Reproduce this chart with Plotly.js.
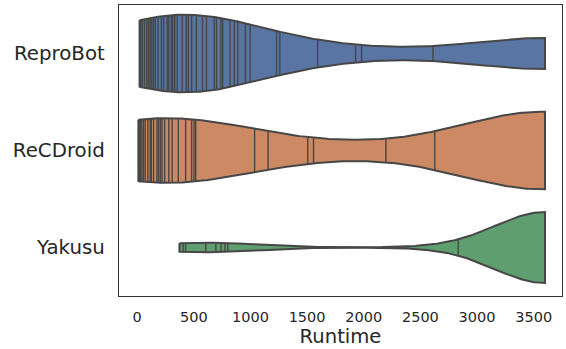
<!DOCTYPE html>
<html>
<head>
<meta charset="utf-8">
<script src="https://cdn.plot.ly/plotly-3.0.1.min.js"></script>
<style>html,body{margin:0;padding:0;background:#fff;}#chart{width:566px;height:349px;}</style>
</head>
<body>
<div id="chart"></div>
<script>
// ---- data ----
const categories = ["ReproBot", "ReCDroid", "Yakusu"];
const reproBot = [22, 26, 32, 45, 65, 86, 101, 116, 130, 145, 160, 184, 214, 234, 265, 279, 303, 314, 332, 354,
  398, 434, 452, 481, 523, 577, 612, 680, 701, 740, 755, 820, 858, 888, 956, 998, 1230, 1259, 1593, 1928, 1981, 2611,
  3600, 3600, 3600, 3600, 3600, 3600, 3600, 3600, 3600, 3600, 3600, 3600, 3600];
const reCDroid = [12, 16, 22, 30, 42, 56, 71, 95, 116, 125, 145, 175, 190, 205, 220, 243, 279, 309, 363, 428, 481,
  502, 517, 1037, 1156, 1506, 1557, 2196, 2627,
  3600, 3600, 3600, 3600, 3600, 3600, 3600, 3600, 3600, 3600, 3600, 3600, 3600, 3600,
  3600, 3600, 3600, 3600, 3600, 3600, 3600, 3600, 3600, 3600, 3600, 3600, 3600, 3600];
const yakusu = [374, 407, 428, 606, 695, 740, 775, 800, 2834,
  3600, 3600, 3600, 3600, 3600, 3600, 3600, 3600, 3600, 3600, 3600, 3600, 3600, 3600,
  3600, 3600, 3600, 3600, 3600, 3600, 3600, 3600, 3600, 3600, 3600, 3600, 3600, 3600,
  3600, 3600, 3600, 3600, 3600, 3600, 3600, 3600, 3600, 3600, 3600, 3600, 3600, 3600,
  3600, 3600, 3600, 3600, 3600, 3600, 3600, 3600, 3600, 3600, 3600, 3600, 3600];
const xTicks = [0, 500, 1000, 1500, 2000, 2500, 3000, 3500];
const xTitle = "Runtime";

// ---- styles ----
const series = [reproBot, reCDroid, yakusu];
const fillColors = ["#5975a4", "#cc8963", "#5f9e6e"];
const halfWidths = [0.4, 0.4, 0.366];
const edgeColor = "#474747";
const textColor = "#262626";
const font = "DejaVu Sans, Liberation Sans, sans-serif";

// Gaussian KDE, Scott's rule (as scipy / seaborn)
function kdeFactory(data) {
  const n = data.length;
  const mean = data.reduce((a, b) => a + b, 0) / n;
  const variance = data.reduce((a, b) => a + (b - mean) * (b - mean), 0) / (n - 1);
  const bw = Math.sqrt(variance) * Math.pow(n, -1 / 5);
  return function (x) {
    let s = 0;
    for (const v of data) { const z = (x - v) / bw; s += Math.exp(-0.5 * z * z); }
    return s / (n * bw * Math.sqrt(2 * Math.PI));
  };
}

const traces = [];
series.forEach((data, i) => {
  const f = kdeFactory(data);
  const lo = Math.min(...data), hi = Math.max(...data);
  const N = 240;
  const grid = [], dens = [];
  for (let k = 0; k < N; k++) { const x = lo + (hi - lo) * k / (N - 1); grid.push(x); dens.push(f(x)); }
  const dmax = Math.max(...dens);
  const scale = halfWidths[i] / dmax;
  const upper = grid.map((x, k) => i - dens[k] * scale);
  const lower = grid.map((x, k) => i + dens[k] * scale);
  const px = grid.concat(grid.slice().reverse(), [grid[0]]);
  const py = upper.concat(lower.slice().reverse(), [upper[0]]);
  traces.push({
    type: "scatter", mode: "lines", x: px, y: py, fill: "toself",
    fillcolor: fillColors[i], line: { color: edgeColor, width: 2 },
    hoverinfo: "skip", showlegend: false
  });
  const sx = [], sy = [];
  data.forEach(v => {
    const d = f(v) * scale;
    sx.push(v, v, null); sy.push(i - d, i + d, null);
  });
  traces.push({
    type: "scatter", mode: "lines", x: sx, y: sy,
    line: { color: edgeColor, width: 1.4 }, hoverinfo: "skip", showlegend: false
  });
});

const layout = {
  width: 566, height: 349,
  margin: { l: 119, r: 4, t: 5, b: 53 },
  paper_bgcolor: "#fff", plot_bgcolor: "#fff",
  showlegend: false,
  xaxis: {
    range: [-160, 3750], tickvals: xTicks, ticktext: xTicks.map(String),
    showgrid: false, zeroline: false, showline: true, mirror: true,
    linecolor: "#333", linewidth: 1.25, ticks: "", ticklabelstandoff: 7,
    tickfont: { family: font, size: 14.5, color: textColor },
    title: { text: xTitle, font: { family: font, size: 19.6, color: textColor }, standoff: 3 },
    automargin: false
  },
  yaxis: {
    range: [2.5, -0.5], tickvals: [0, 1, 2], ticktext: categories,
    showgrid: false, zeroline: false, showline: true, mirror: true,
    linecolor: "#333", linewidth: 1.25, ticks: "", ticklabelstandoff: 9,
    tickfont: { family: font, size: 19.8, color: textColor },
    automargin: false
  }
};

Plotly.newPlot("chart", traces, layout, { staticPlot: true, displayModeBar: false });
</script>
</body>
</html>
